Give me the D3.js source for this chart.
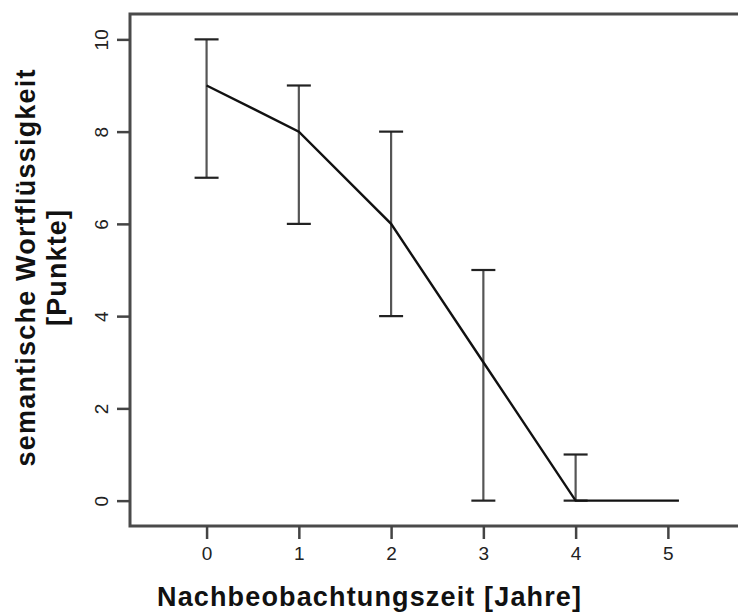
<!DOCTYPE html>
<meta charset="utf-8">
<style>
body {
  margin: 0;
  background: #fff;
  font-family: "Liberation Sans", Arial, sans-serif;
}
.tick text {
  font-size: 19px;
  fill: #222;
}
.title {
  font-size: 27px;
  font-weight: bold;
  fill: #111;
}
</style>
<body>
<div id="chart"></div>
<script src="https://d3js.org/d3.v7.min.js"></script>
<script>

// data
const years = [0, 1, 2, 3, 4, 5.12];
const points = [9, 8, 6, 3, 0, 0];
const barYears = [0, 1, 2, 3, 4];
const barLow = [7, 6, 4, 0, 0];
const barHigh = [10, 9, 8, 5, 1];
const xTicks = [0, 1, 2, 3, 4, 5];
const yTicks = [0, 2, 4, 6, 8, 10];

const width = 738;
const height = 612;
const margin = {top: 14, right: 0, bottom: 86, left: 130};

const x = d3.scaleLinear()
  .domain([-0.83, 5.76])
  .range([margin.left, width - margin.right]);

const y = d3.scaleLinear()
  .domain([-0.55, 10.55])
  .range([height - margin.bottom, margin.top]);

const svg = d3.select("#chart")
  .append("svg")
  .attr("width", width)
  .attr("height", height);

// frame (right side runs off the picture)
svg.append("rect")
  .attr("x", margin.left)
  .attr("y", margin.top)
  .attr("width", width - margin.left + 10)
  .attr("height", height - margin.bottom - margin.top)
  .attr("fill", "none")
  .attr("stroke", "#4a4a4a")
  .attr("stroke-width", 3);

// axes
svg.append("g")
  .attr("transform", `translate(0,${height - margin.bottom})`)
  .call(d3.axisBottom(x).tickValues(xTicks).tickSize(13).tickPadding(8).tickFormat(d3.format("d")))
  .call(g => g.select(".domain").remove())
  .call(g => g.selectAll(".tick line").attr("stroke", "#444").attr("stroke-width", 2.5));

const yAxis = svg.append("g")
  .attr("transform", `translate(${margin.left},0)`)
  .call(d3.axisLeft(y).tickValues(yTicks).tickSize(13).tickFormat(d3.format("d")))
  .call(g => g.select(".domain").remove())
  .call(g => g.selectAll(".tick line").attr("stroke", "#444").attr("stroke-width", 2.5));

yAxis.selectAll(".tick text")
  .attr("x", null)
  .attr("dy", null)
  .attr("text-anchor", "middle")
  .attr("transform", "translate(-22,0) rotate(-90)");

// error bars
const bars = svg.append("g")
  .attr("stroke", "#555")
  .attr("stroke-width", 2.2);

bars.selectAll("line.v")
  .data(barYears)
  .join("line")
    .attr("class", "v")
    .attr("x1", d => x(d))
    .attr("x2", d => x(d))
    .attr("y1", (d, i) => y(barLow[i]))
    .attr("y2", (d, i) => y(barHigh[i]));

bars.selectAll("line.top")
  .data(barYears)
  .join("line")
    .attr("class", "top")
    .attr("x1", d => x(d) - 12)
    .attr("x2", d => x(d) + 12)
    .attr("y1", (d, i) => y(barHigh[i]))
    .attr("y2", (d, i) => y(barHigh[i]))
    .attr("stroke", "#222");

bars.selectAll("line.bot")
  .data(barYears)
  .join("line")
    .attr("class", "bot")
    .attr("x1", d => x(d) - 12)
    .attr("x2", d => x(d) + 12)
    .attr("y1", (d, i) => y(barLow[i]))
    .attr("y2", (d, i) => y(barLow[i]))
    .attr("stroke", "#222");

// mean line
const line = d3.line()
  .x((d, i) => x(years[i]))
  .y(d => y(d));

svg.append("path")
  .datum(points)
  .attr("fill", "none")
  .attr("stroke", "#111")
  .attr("stroke-width", 2.4)
  .attr("d", line);

// titles
svg.append("text")
  .attr("class", "title")
  .attr("x", 157)
  .attr("y", 606)
  .attr("textLength", 424)
  .attr("lengthAdjust", "spacing")
  .text("Nachbeobachtungszeit [Jahre]");

const yTitle = svg.append("g")
  .attr("transform", "translate(0,268) rotate(-90)");

yTitle.append("text")
  .attr("class", "title")
  .attr("x", 0)
  .attr("y", 35)
  .attr("text-anchor", "middle")
  .attr("textLength", 397)
  .attr("lengthAdjust", "spacing")
  .text("semantische Wortflüssigkeit");

yTitle.append("text")
  .attr("class", "title")
  .attr("x", 0)
  .attr("y", 66)
  .attr("text-anchor", "middle")
  .attr("textLength", 116)
  .attr("lengthAdjust", "spacing")
  .text("[Punkte]");

</script>
